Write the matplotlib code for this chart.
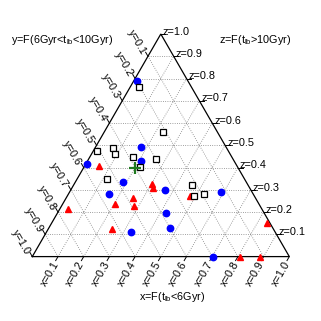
import numpy as np
import matplotlib
matplotlib.use("Agg")
import matplotlib.pyplot as plt

plt.rcParams['font.family'] = ['Liberation Sans', 'DejaVu Sans']
plt.rcParams['mathtext.fontset'] = 'custom'
plt.rcParams['mathtext.rm'] = 'Liberation Sans'
plt.rcParams['mathtext.it'] = 'Liberation Sans:italic'

# ternary fractions (x = F(t<6Gyr), y = F(6<t<10Gyr), z = F(t>10Gyr))
sq_x = [0.036, 0.228, 0.015, 0.072, 0.091, 0.169, 0.263, 0.219, 0.119, 0.460, 0.494, 0.528]
sq_y = [0.203, 0.211, 0.509, 0.442, 0.448, 0.382, 0.298, 0.380, 0.534, 0.220, 0.236, 0.190]
sq_z = [0.761, 0.561, 0.476, 0.486, 0.461, 0.449, 0.439, 0.401, 0.347, 0.320, 0.270, 0.282]

bl_x = [0.012, 0.176, 0.208, 0.004, 0.185, 0.159, 0.368, 0.588, 0.421, 0.472, 0.331, 0.704]
bl_y = [0.199, 0.333, 0.362, 0.581, 0.481, 0.561, 0.333, 0.123, 0.381, 0.398, 0.560, 0.296]
bl_z = [0.789, 0.491, 0.430, 0.415, 0.334, 0.280, 0.299, 0.289, 0.198, 0.130, 0.109, 0.000]

rd_x = [0.054, 0.302, 0.313, 0.258, 0.203, 0.283, 0.478, 0.031, 0.248, 0.837, 0.808, 0.886]
rd_y = [0.537, 0.374, 0.377, 0.478, 0.562, 0.489, 0.251, 0.755, 0.628, 0.013, 0.192, 0.114]
rd_z = [0.409, 0.324, 0.310, 0.264, 0.235, 0.228, 0.271, 0.214, 0.124, 0.150, 0.000, 0.000]

gp_x = [0.2]
gp_y = [0.4]
gp_z = [0.4]

tick_vals = [0.1, 0.2, 0.3, 0.4, 0.5, 0.6, 0.7, 0.8, 0.9, 1.0]

x_title = r'x=F(t$_\mathrm{lb}$<6Gyr)'
y_title = r'y=F(6Gyr<t$_\mathrm{lb}$<10Gyr)'
z_title = r'z=F(t$_\mathrm{lb}$>10Gyr)'

H = np.sqrt(3) / 2


def cart(x, y, z):
    x = np.asarray(x, float); z = np.asarray(z, float)
    return x + 0.5 * z, H * z


fig = plt.figure(figsize=(3.21, 3.21), dpi=100)
ax = fig.add_axes([0, 0, 1, 1])
ax.set_xlim(-0.1257, 1.1233)
ax.set_ylim(-0.2506, 0.9984)
ax.axis('off')

gkw = dict(color='0.5', lw=0.6, linestyle=(0, (1, 1.7)), zorder=1)
tl = 0.018
for v in tick_vals[:-1]:
    # constant z (horizontal)
    X, Y = cart([0, 1 - v], [1 - v, 0], [v, v])
    ax.plot(X, Y, **gkw)
    # constant x
    X, Y = cart([v, v], [1 - v, 0], [0, 1 - v])
    ax.plot(X, Y, **gkw)
    # constant y
    X, Y = cart([0, 1 - v], [v, v], [1 - v, 0])
    ax.plot(X, Y, **gkw)

# triangle edges
X, Y = cart([0, 1, 0, 0], [1, 0, 0, 1], [0, 0, 1, 0])
ax.plot(X, Y, color='black', lw=0.9, zorder=2, solid_joinstyle='miter')

fs = 7.8
for v in tick_vals:
    # x ticks on bottom edge
    bx, by = cart([v], [1 - v], [0])
    ax.plot([bx[0], bx[0] - 0.5 * tl], [by[0], by[0] - H * tl], color='black', lw=0.7)
    ax.text(bx[0] - 0.006, by[0] - 0.022, 'x=%.1f' % v, rotation=60, ha='right', va='center',
            rotation_mode='anchor', fontsize=fs)
    # y ticks on left edge
    lx, ly = cart([0], [v], [1 - v])
    ax.plot([lx[0], lx[0] - 0.5 * tl], [ly[0], ly[0] + H * tl], color='black', lw=0.7)
    ax.text(lx[0] - 0.018, ly[0] + 0.010, 'y=%.1f' % v, rotation=-60, ha='right', va='center',
            rotation_mode='anchor', fontsize=fs)
    # z ticks on right edge
    rx, ry = cart([1 - v], [0], [v])
    ax.plot([rx[0], rx[0] + tl], [ry[0], ry[0]], color='black', lw=0.7)
    ax.text(rx[0] + 0.008, ry[0] + 0.009, 'z=%.1f' % v, ha='left', va='center', fontsize=fs)

# data
X, Y = cart(bl_x, bl_y, bl_z)
ax.plot(X, Y, 'o', color='blue', ms=4.6, mec='blue', zorder=3, clip_on=False)
X, Y = cart(rd_x, rd_y, rd_z)
ax.plot(X, Y, '^', color='red', ms=5.0, mec='red', zorder=4, clip_on=False)
X, Y = cart(sq_x, sq_y, sq_z)
ax.plot(X, Y, 's', mfc='white', mec='black', mew=0.9, ms=5.0, zorder=5, clip_on=False)
X, Y = cart(gp_x, gp_y, gp_z)
ax.plot(X, Y, '+', color='#1f7a1f', ms=9, mew=1.6, zorder=6)

# titles (figure pixel positions)
fig.text(11 / 321, 1 - 40 / 321, y_title, ha='left', va='center', fontsize=fs)
fig.text(219 / 321, 1 - 40 / 321, z_title, ha='left', va='center', fontsize=fs)
fig.text(139 / 321, 1 - 297 / 321, x_title, ha='left', va='center', fontsize=fs)

fig.savefig('out.png', dpi=100)
